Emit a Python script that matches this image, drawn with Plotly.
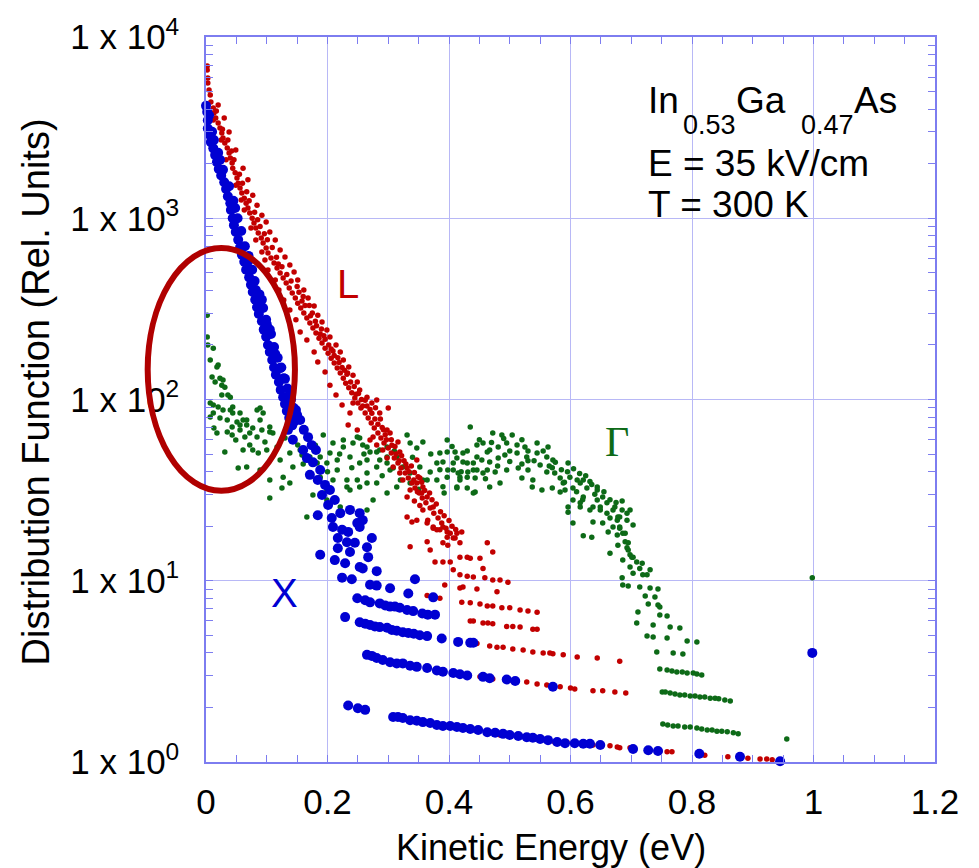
import plotly.graph_objects as go

# ---------------- data (energy in eV, distribution function in rel. units) ----------------
# X valley (blue)
x_valley = [
    (0.000, 4170), (0.002, 3860), (0.003, 3470), (0.003, 3130), (0.007, 2860), (0.008, 2630),
    (0.012, 2430), (0.015, 2230), (0.018, 2040), (0.021, 1870), (0.025, 1720), (0.030, 1580),
    (0.033, 1450), (0.036, 1320), (0.040, 1210), (0.041, 1110), (0.044, 1000), (0.046, 916),
    (0.049, 840), (0.053, 760), (0.056, 690), (0.059, 630), (0.063, 575), (0.066, 520),
    (0.071, 472), (0.074, 430), (0.077, 392), (0.081, 355), (0.084, 323), (0.087, 296),
    (0.092, 270), (0.095, 243), (0.099, 222), (0.102, 200), (0.105, 183), (0.109, 165),
    (0.112, 150), (0.115, 137), (0.120, 125), (0.123, 113), (0.127, 103), (0.130, 94.5),
    (0.133, 86.5), (0.137, 79), (0.142, 72),
    (0.013, 2700), (0.023, 2100), (0.048, 1140), (0.069, 575), (0.082, 402), (0.092, 355),
    (0.099, 275), (0.105, 243), (0.114, 178), (0.122, 149), (0.128, 131), (0.138, 106),
    (0.148, 87.5), (0.135, 68), (0.143, 60),
    (0.005, 3700), (0.010, 3000), (0.020, 2300), (0.028, 1850), (0.038, 1500), (0.045, 1250),
    (0.052, 1000), (0.058, 850), (0.064, 700), (0.070, 620), (0.076, 520), (0.080, 450),
    (0.088, 380), (0.094, 320), (0.100, 260), (0.107, 230), (0.112, 195), (0.118, 170),
    (0.124, 150), (0.130, 130), (0.134, 115), (0.140, 100), (0.144, 90), (0.150, 82),
    (0.146, 76),
    (0.155, 77), (0.161, 68), (0.168, 62), (0.174, 56), (0.160, 52.6), (0.181, 52.6),
    (0.166, 47.5), (0.176, 45), (0.188, 40.8), (0.171, 38.4), (0.184, 36), (0.196, 33.8),
    (0.204, 31.7), (0.191, 29.7), (0.212, 27.9), (0.201, 26.2), (0.184, 23),
    (0.221, 23.6), (0.237, 24.6), (0.253, 23.6), (0.258, 21.6), (0.249, 20.8), (0.207, 22.2),
    (0.209, 19.8), (0.224, 19.1), (0.234, 18.6), (0.253, 19.8), (0.217, 17.2), (0.232, 16.3),
    (0.245, 16.2), (0.273, 17.2), (0.265, 15.3), (0.217, 15.1), (0.237, 14.4), (0.267, 13.5),
    (0.188, 13.9), (0.212, 13.0), (0.229, 12.5), (0.253, 11.9), (0.258, 11.7), (0.281, 11.3),
    (0.224, 10.4), (0.240, 10.2),
    (0.270, 9.5), (0.281, 9.4), (0.303, 9.1), (0.344, 10.2), (0.333, 8.5), (0.374, 8.1),
    (0.249, 8.0), (0.262, 7.8), (0.270, 7.6), (0.286, 7.5), (0.295, 7.3), (0.303, 7.2),
    (0.311, 7.2), (0.319, 7.1), (0.331, 6.9), (0.341, 6.8), (0.356, 6.6), (0.365, 6.5),
    (0.377, 6.5),
    (0.229, 6.3), (0.253, 5.9), (0.262, 5.8), (0.270, 5.7), (0.278, 5.6), (0.286, 5.55),
    (0.298, 5.5), (0.306, 5.35), (0.314, 5.3), (0.324, 5.2), (0.333, 5.15), (0.342, 5.1),
    (0.352, 5.0), (0.364, 4.95), (0.388, 4.8), (0.415, 4.6), (0.435, 4.55), (0.440, 4.55),
    (0.265, 3.9), (0.273, 3.85), (0.281, 3.75), (0.291, 3.65), (0.303, 3.55), (0.314, 3.5),
    (0.324, 3.5), (0.336, 3.4), (0.347, 3.35), (0.364, 3.3), (0.380, 3.2), (0.390, 3.15),
    (0.407, 3.1), (0.418, 3.05), (0.430, 3.0), (0.456, 2.95), (0.467, 2.9), (0.495, 2.85),
    (0.509, 2.8), (0.571, 2.6),
    (0.234, 2.05), (0.250, 1.98), (0.262, 1.94), (0.308, 1.77), (0.316, 1.77), (0.324, 1.75),
    (0.336, 1.7), (0.347, 1.69), (0.357, 1.66), (0.369, 1.64), (0.380, 1.6), (0.390, 1.58),
    (0.402, 1.58), (0.413, 1.56), (0.423, 1.54), (0.435, 1.52), (0.448, 1.5), (0.463, 1.46),
    (0.476, 1.45), (0.489, 1.43), (0.500, 1.41), (0.514, 1.39), (0.528, 1.37), (0.538, 1.36),
    (0.550, 1.34), (0.563, 1.32), (0.578, 1.29), (0.591, 1.27), (0.607, 1.27), (0.621, 1.26),
    (0.632, 1.26), (0.649, 1.24), (0.703, 1.18), (0.728, 1.16), (0.744, 1.15), (0.812, 1.11),
    (0.879, 1.07), (0.945, 1.01),
    (0.998, 4.0),
]

# L valley (red)
l_valley = [
    (0.002, 6920), (0.002, 6580), (0.003, 5940), (0.003, 5570), (0.005, 5100), (0.007, 4790),
    (0.008, 4380), (0.012, 4060), (0.013, 3810), (0.016, 3570), (0.020, 3350), (0.023, 3150),
    (0.026, 2950), (0.028, 2770), (0.031, 2600), (0.035, 2440), (0.038, 2290), (0.040, 2150),
    (0.043, 2020), (0.044, 1890), (0.048, 1780), (0.051, 1670), (0.053, 1560), (0.056, 1470),
    (0.059, 1380), (0.063, 1290), (0.066, 1210), (0.069, 1140), (0.072, 1070), (0.076, 1000),
    (0.079, 942), (0.082, 883), (0.086, 829), (0.091, 778), (0.094, 730), (0.099, 685),
    (0.102, 643), (0.107, 603), (0.112, 566), (0.117, 531), (0.122, 499), (0.127, 468),
    (0.132, 439), (0.137, 412), (0.142, 387), (0.147, 363), (0.151, 340), (0.156, 320),
    (0.161, 300), (0.166, 282), (0.171, 264), (0.176, 248), (0.181, 233), (0.186, 218),
    (0.191, 205), (0.196, 192), (0.201, 180), (0.206, 169), (0.211, 159), (0.216, 149),
    (0.221, 140), (0.226, 131), (0.230, 123), (0.235, 116), (0.240, 109), (0.245, 102),
    (0.250, 95.7), (0.255, 89.8), (0.262, 84.2), (0.267, 79), (0.272, 74.2), (0.277, 69.6),
    (0.283, 65.3), (0.288, 61.3), (0.293, 57.5), (0.300, 54), (0.305, 50.7), (0.310, 47.5),
    (0.316, 44.6), (0.321, 41.9), (0.328, 39.3), (0.333, 36.9), (0.339, 34.6), (0.344, 32.5),
    (0.351, 30.5), (0.356, 28.6), (0.362, 26.9), (0.369, 25.2), (0.375, 23.6), (0.382, 22.2),
    (0.388, 20.8), (0.395, 19.5), (0.402, 18.3), (0.410, 17.2), (0.418, 16.2),
    (0.012, 3480), (0.025, 2700), (0.033, 2100), (0.049, 1520), (0.058, 1260), (0.063, 1110),
    (0.074, 883), (0.082, 759), (0.092, 651), (0.097, 589), (0.102, 518), (0.114, 456),
    (0.120, 402), (0.128, 354), (0.138, 312), (0.148, 275), (0.155, 236), (0.166, 213),
    (0.178, 183), (0.184, 161), (0.196, 142), (0.204, 120), (0.214, 106), (0.224, 93.3),
    (0.237, 84.2), (0.242, 95.7), (0.234, 72.3), (0.249, 67.9), (0.270, 59.7), (0.275, 62.1),
    (0.281, 56.1), (0.291, 52.6), (0.298, 47.5), (0.308, 42.4), (0.319, 39.3), (0.324, 36),
    (0.336, 31.7), (0.331, 29), (0.331, 22.5), (0.339, 21.1), (0.336, 15.4),
    (0.020, 4220), (0.030, 3570), (0.038, 2990), (0.049, 2380), (0.061, 1890), (0.069, 1630),
    (0.077, 1340), (0.084, 1180), (0.092, 1040), (0.099, 953), (0.105, 840), (0.114, 759),
    (0.122, 668), (0.130, 611), (0.138, 552), (0.145, 505), (0.151, 456), (0.161, 402),
    (0.168, 363), (0.178, 328), (0.184, 292), (0.191, 268), (0.199, 242), (0.204, 221),
    (0.214, 200), (0.221, 183), (0.226, 165), (0.235, 151), (0.242, 136), (0.249, 125),
    (0.253, 113), (0.265, 103), (0.273, 95.7), (0.281, 99.4), (0.300, 89.8), (0.286, 84.2),
    (0.298, 67.9), (0.303, 65.3), (0.316, 58.2), (0.319, 51.3), (0.347, 46.4), (0.331, 41.9),
    (0.352, 36.9), (0.347, 34.6), (0.357, 32.9), (0.364, 29), (0.374, 25.5), (0.357, 24.6),
    (0.347, 21.6), (0.365, 21.6), (0.374, 19.8), (0.380, 19.1), (0.390, 19.8), (0.397, 18.6),
    (0.413, 18.3), (0.421, 18.6), (0.364, 20.8), (0.374, 19.5), (0.385, 19.1), (0.397, 17.4),
    (0.364, 16.4), (0.369, 14.8), (0.390, 16.2), (0.398, 15.7), (0.407, 17.2), (0.418, 13.5),
    (0.430, 13.5), (0.435, 13.3), (0.451, 13.3), (0.463, 16.2), (0.472, 14.4), (0.377, 12.7),
    (0.390, 12.7), (0.402, 12.7), (0.407, 11.5), (0.418, 10.8), (0.430, 10.6), (0.440, 10.5),
    (0.456, 11.7), (0.459, 10.4), (0.472, 10.1), (0.484, 10.1), (0.497, 9.8), (0.479, 8.7),
    (0.418, 9.12), (0.423, 9.23), (0.446, 9.0), (0.364, 8.3), (0.385, 8.0), (0.393, 9.48),
    (0.150, 420), (0.160, 370), (0.170, 330), (0.175, 300), (0.180, 270), (0.190, 245),
    (0.196, 215), (0.206, 190), (0.211, 175), (0.219, 160), (0.228, 145), (0.232, 138),
    (0.244, 118), (0.247, 107), (0.258, 92), (0.262, 99), (0.270, 88), (0.278, 78),
    (0.283, 73), (0.290, 70), (0.295, 64), (0.305, 60), (0.311, 55), (0.322, 49),
    (0.326, 46), (0.338, 43), (0.343, 39.5), (0.349, 37.5), (0.355, 35), (0.360, 31.5),
    (0.368, 30.5), (0.372, 28), (0.379, 26.5), (0.386, 24), (0.392, 22.8), (0.400, 21.5),
    (0.405, 20), (0.411, 19.2), (0.352, 26), (0.343, 27.5),
    (0.017, 3900), (0.027, 3100), (0.036, 2700), (0.042, 2350), (0.046, 2100), (0.055, 1750),
    (0.060, 1560), (0.067, 1400), (0.071, 1250), (0.080, 1080), (0.085, 980), (0.089, 900),
    (0.096, 820), (0.101, 760), (0.109, 690), (0.116, 610), (0.119, 560), (0.125, 540),
    (0.133, 490), (0.140, 450), (0.153, 390), (0.158, 350), (0.163, 330), (0.172, 290),
    (0.182, 255), (0.188, 230), (0.194, 225), (0.202, 200), (0.209, 185), (0.217, 170),
    (0.224, 150), (0.233, 140), (0.238, 125), (0.251, 108), (0.256, 100), (0.265, 92),
    (0.273, 84), (0.279, 90), (0.287, 78), (0.292, 68), (0.297, 60), (0.306, 56),
    (0.313, 50), (0.318, 46), (0.329, 44), (0.334, 40), (0.342, 36), (0.348, 31),
    (0.355, 30.5),
    (0.421, 7.6), (0.435, 7.55), (0.451, 7.45), (0.463, 7.25), (0.472, 7.25), (0.487, 7.1),
    (0.500, 7.1), (0.517, 6.9), (0.530, 6.8), (0.545, 6.7),
    (0.435, 6.0), (0.440, 6.0), (0.456, 5.85), (0.464, 5.85), (0.472, 5.8), (0.495, 5.6),
    (0.505, 5.6), (0.517, 5.55), (0.538, 5.4), (0.545, 5.4),
    (0.446, 4.5), (0.467, 4.36), (0.479, 4.3), (0.489, 4.3), (0.505, 4.2), (0.522, 4.15),
    (0.538, 4.05), (0.555, 4.0), (0.566, 4.0), (0.571, 3.95), (0.588, 3.9), (0.611, 3.8),
    (0.644, 3.75), (0.681, 3.6),
    (0.451, 2.95), (0.472, 2.87), (0.505, 2.8), (0.528, 2.76), (0.545, 2.69), (0.561, 2.66),
    (0.583, 2.6), (0.600, 2.56), (0.607, 2.53), (0.637, 2.47), (0.653, 2.47), (0.673, 2.43),
    (0.691, 2.4),
    (0.484, 1.41), (0.574, 1.29), (0.594, 1.29), (0.624, 1.26), (0.637, 1.24), (0.665, 1.23),
    (0.677, 1.21), (0.681, 1.2), (0.698, 1.2), (0.747, 1.15), (0.759, 1.14), (0.767, 1.14),
    (0.821, 1.09), (0.859, 1.07), (0.892, 1.05), (0.912, 1.04), (0.923, 1.04), (0.932, 1.03),
]

# Gamma valley (green)
gamma_valley = [
    (0.002, 292), (0.002, 221), (0.003, 200), (0.012, 192), (0.007, 165), (0.020, 155),
    (0.018, 151), (0.010, 133), (0.023, 131), (0.028, 128), (0.015, 125), (0.026, 120),
    (0.031, 117), (0.026, 106), (0.036, 106), (0.040, 103), (0.007, 95.7), (0.012, 93.3),
    (0.020, 90.9), (0.044, 90.9), (0.028, 87.5), (0.040, 87.5), (0.084, 87.5), (0.089, 89.8),
    (0.012, 84.2), (0.044, 84.2), (0.056, 84.2), (0.094, 84.2), (0.007, 80), (0.023, 79),
    (0.035, 77.1), (0.061, 77.1), (0.089, 77.1), (0.067, 77.1), (0.051, 75.1), (0.056, 72.3),
    (0.067, 72.3), (0.043, 70.5), (0.105, 70.5), (0.077, 69.6), (0.092, 67.9), (0.056, 67.9),
    (0.035, 66.2), (0.105, 66.2), (0.018, 65.3), (0.072, 65.3), (0.110, 65.3), (0.043, 63.7),
    (0.064, 62.1), (0.084, 62.1), (0.117, 54.7), (0.061, 52.6), (0.077, 52.6), (0.100, 52.6),
    (0.031, 51.3), (0.086, 50.7), (0.138, 50.7), (0.122, 46.4), (0.067, 42.4), (0.053, 41.9),
    (0.143, 42.4), (0.089, 40.8), (0.127, 37.3), (0.105, 36), (0.138, 34.6), (0.125, 32.5),
    (0.105, 28.6), (0.013, 69.6), (0.049, 59.7), (0.072, 56.1), (0.097, 58.2), (0.130, 61.3),
    (0.151, 56.1), (0.158, 49.4),
    (0.155, 52.6), (0.171, 48.2), (0.183, 44.6), (0.188, 37.3), (0.193, 63.7), (0.204, 50.7),
    (0.209, 57.5), (0.226, 59.7), (0.226, 54.7), (0.237, 48.2), (0.242, 57.5), (0.249, 62.1),
    (0.253, 61.3), (0.258, 56.1), (0.253, 44.6), (0.265, 54.7), (0.270, 51.3), (0.281, 51.3),
    (0.286, 52.6), (0.298, 54.7), (0.298, 48.2), (0.281, 42.4), (0.303, 40.8), (0.265, 34.6),
    (0.237, 31.7), (0.232, 36), (0.216, 40.8), (0.188, 48.2), (0.199, 44.6), (0.216, 46.4),
    (0.265, 46.4), (0.286, 46.4), (0.308, 41.9), (0.324, 42.4), (0.331, 63.7), (0.336, 57.5),
    (0.347, 54), (0.357, 58.2), (0.314, 48.2), (0.298, 44.6), (0.265, 39.3), (0.249, 36),
    (0.209, 36), (0.336, 39.3), (0.352, 42.4), (0.369, 39.8), (0.380, 44.6), (0.397, 51.3),
    (0.413, 47.5), (0.430, 44.6), (0.446, 48.2), (0.463, 51.3), (0.472, 65.3), (0.435, 70.5),
    (0.397, 59.7), (0.407, 40.8), (0.418, 36), (0.430, 37.3), (0.440, 40.8), (0.456, 39.3),
    (0.467, 32.9), (0.443, 30.9), (0.413, 32.9), (0.397, 37.3), (0.364, 36), (0.336, 34.6),
    (0.314, 32.9), (0.298, 30.5), (0.281, 34.6), (0.253, 32.9), (0.232, 32.9), (0.199, 31.7),
    (0.176, 29.7), (0.199, 27.9), (0.221, 25.5), (0.275, 27.9), (0.265, 24.6), (0.166, 22.5),
    (0.357, 36), (0.380, 36),
    (0.160, 44), (0.180, 56), (0.200, 40), (0.220, 50), (0.240, 42), (0.260, 50),
    (0.290, 38), (0.310, 52), (0.320, 36), (0.340, 48), (0.350, 32), (0.370, 50),
    (0.385, 41), (0.390, 33), (0.405, 55), (0.420, 40), (0.430, 52),
    (0.487, 63.7), (0.504, 63.7), (0.385, 50.7), (0.410, 51.3), (0.423, 50.7), (0.446, 56.1),
    (0.456, 57.5), (0.467, 52.6), (0.481, 54.7), (0.495, 57.5), (0.512, 56.1), (0.525, 54.7),
    (0.545, 57.5), (0.563, 54.7), (0.390, 45.2), (0.407, 44.6), (0.423, 45.2), (0.440, 44.6),
    (0.454, 46.4), (0.467, 45.2), (0.481, 47.5), (0.492, 49.4), (0.512, 50.7), (0.528, 48.2),
    (0.545, 50.7), (0.561, 48.2), (0.571, 46.4), (0.596, 44.6), (0.398, 40.8), (0.415, 39.3),
    (0.431, 39.8), (0.446, 40.8), (0.463, 40.8), (0.476, 39.8), (0.495, 40.8), (0.514, 41.9),
    (0.530, 40.8), (0.550, 43.5), (0.561, 39.8), (0.574, 39.3), (0.583, 36.9), (0.599, 37.3),
    (0.611, 36), (0.621, 36), (0.632, 35.3), (0.644, 32.9), (0.653, 29), (0.418, 37.3),
    (0.443, 36.9), (0.484, 34.6), (0.520, 36.9), (0.537, 32.9), (0.538, 36), (0.553, 31.7),
    (0.570, 32.5), (0.583, 30.9), (0.591, 31.7), (0.596, 25.5), (0.604, 27.9), (0.616, 25.5),
    (0.621, 29), (0.632, 24.6), (0.644, 27.9), (0.649, 25.5), (0.660, 23.6), (0.670, 24.6),
    (0.677, 21.6), (0.681, 22.5), (0.693, 23.6), (0.703, 20.3), (0.670, 19.8), (0.662, 18.6),
    (0.681, 19.8), (0.686, 18.3), (0.621, 17.7), (0.635, 17.4), (0.604, 20.8), (0.665, 14.2),
    (0.678, 15.7), (0.690, 16.4), (0.693, 15.2), (0.698, 13.9), (0.703, 13.5), (0.413, 32.5),
    (0.430, 32.5), (0.440, 30.5), (0.392, 30.5), (0.588, 34.6), (0.604, 32.5), (0.616, 34.6),
    (0.627, 32.5), (0.644, 31.7), (0.660, 26.9), (0.649, 24.6), (0.637, 25.5), (0.616, 26.9),
    (0.596, 23.9), (0.637, 21.1), (0.653, 20.8), (0.665, 22.2), (0.673, 25.5), (0.685, 24.6),
    (0.678, 22.5), (0.693, 21.6), (0.698, 24.6), (0.681, 19.5), (0.690, 18.3), (0.677, 17.9),
    (0.450, 60), (0.470, 58), (0.490, 61), (0.500, 52), (0.520, 60), (0.530, 52),
    (0.540, 46), (0.555, 52), (0.565, 43), (0.575, 45), (0.585, 41), (0.595, 40),
    (0.605, 41.5), (0.615, 39), (0.625, 38), (0.635, 34), (0.640, 30), (0.655, 31),
    (0.665, 28), (0.675, 27), (0.685, 27.5), (0.460, 36.5), (0.480, 43), (0.500, 45.5),
    (0.520, 44), (0.530, 46), (0.570, 42), (0.590, 35), (0.610, 31), (0.620, 28),
    (0.695, 16.2), (0.695, 14.8), (0.686, 13.0), (0.701, 13.5), (0.709, 12.7), (0.718, 12.5),
    (0.698, 11.9), (0.714, 11.7), (0.731, 11.5), (0.703, 11.0), (0.719, 10.8), (0.726, 10.8),
    (0.685, 10.4), (0.686, 9.48), (0.695, 9.35), (0.714, 9.23), (0.731, 9.12), (0.744, 9.0),
    (0.723, 8.24), (0.739, 8.13), (0.728, 7.44), (0.744, 7.35), (0.747, 7.17), (0.711, 6.73),
    (0.747, 6.47), (0.759, 6.39), (0.709, 5.85), (0.736, 5.70), (0.764, 5.56), (0.780, 5.49),
    (0.726, 4.96), (0.736, 4.90), (0.759, 4.83), (0.792, 4.65), (0.808, 4.59), (0.742, 4.05),
    (0.769, 3.99), (0.785, 3.94),
    (0.747, 3.26), (0.759, 3.22), (0.767, 3.18), (0.775, 3.14), (0.784, 3.14), (0.792, 3.10),
    (0.802, 3.10), (0.808, 3.06), (0.816, 3.02),
    (0.751, 2.43), (0.756, 2.43), (0.764, 2.40), (0.772, 2.37), (0.780, 2.34), (0.788, 2.34),
    (0.797, 2.31), (0.805, 2.31), (0.813, 2.28), (0.821, 2.28), (0.830, 2.25), (0.838, 2.25),
    (0.844, 2.23), (0.854, 2.20), (0.863, 2.17),
    (0.752, 1.62), (0.760, 1.60), (0.769, 1.58), (0.777, 1.58), (0.788, 1.56), (0.797, 1.56),
    (0.808, 1.54), (0.816, 1.52), (0.825, 1.50), (0.833, 1.50), (0.841, 1.48), (0.849, 1.48),
    (0.858, 1.47), (0.868, 1.45), (0.876, 1.43),
    (0.956, 1.34), (0.998, 10.4),
]

x_tickvals = [0, 0.2, 0.4, 0.6, 0.8, 1.0, 1.2]
x_ticktext = ["0", "0.2", "0.4", "0.6", "0.8", "1", "1.2"]
y_tickvals = [1, 10, 100, 1000, 10000]
y_ticktext = ["1 x 10<sup>0</sup>", "1 x 10<sup>1</sup>", "1 x 10<sup>2</sup>",
              "1 x 10<sup>3</sup>", "1 x 10<sup>4</sup>"]

BLUE = "#0000d2"
RED = "#c20000"
GREEN = "#0d6a17"
AXIS = "#7d7df0"
GRID = "#b8b8f6"
FONT = "Liberation Sans, Arial, Helvetica, sans-serif"


def split(pts):
    return [p[0] for p in pts], [p[1] for p in pts]


fig = go.Figure()
for pts, col, size in [(gamma_valley, GREEN, 5.5), (l_valley, RED, 5.5), (x_valley, BLUE, 10)]:
    xs, ys = split(pts)
    fig.add_trace(go.Scatter(x=xs, y=ys, mode="markers", cliponaxis=False,
                             marker=dict(color=col, size=size, line=dict(width=0)),
                             showlegend=False))

fig.update_layout(
    width=979, height=868,
    margin=dict(l=206, r=44, t=37, b=106),
    paper_bgcolor="white", plot_bgcolor="white",
    font=dict(family=FONT, color="black", size=35),
)
fig.update_xaxes(
    range=[0, 1.2], tickvals=x_tickvals, ticktext=x_ticktext,
    showline=True, linecolor=AXIS, linewidth=1.5, mirror="allticks",
    ticks="inside", ticklen=7, tickcolor=AXIS, tickwidth=1,
    showgrid=True, gridcolor=GRID, gridwidth=1, zeroline=False,
    tickfont=dict(size=35), ticklabelstandoff=8,
    minor=dict(dtick=0.05, ticks="inside", ticklen=7, tickcolor=AXIS, showgrid=False),
)
fig.update_yaxes(
    type="log", range=[0, 4], tickvals=y_tickvals, ticktext=y_ticktext,
    showline=True, linecolor=AXIS, linewidth=1.5, mirror="allticks",
    ticks="inside", ticklen=7, tickcolor=AXIS, tickwidth=1,
    showgrid=True, gridcolor=GRID, gridwidth=1, zeroline=False,
    tickfont=dict(size=35), ticklabelstandoff=18,
    minor=dict(dtick="D1", ticks="inside", ticklen=7, tickcolor=AXIS, showgrid=False),
)

annotations = [
    dict(text="Kinetic Energy (eV)", xref="paper", yref="paper", x=0.473, y=-0.118,
         xanchor="center", yanchor="middle", showarrow=False, font=dict(size=36)),
    dict(text="Distribution Function (Rel. Units)", xref="paper", yref="paper", x=-0.233, y=0.51,
         xanchor="center", yanchor="middle", textangle=-90, showarrow=False, font=dict(size=38)),
    dict(text="In", xref="paper", yref="paper", x=0.604, y=0.913,
         xanchor="left", yanchor="middle", showarrow=False, font=dict(size=37)),
    dict(text="0.53", xref="paper", yref="paper", x=0.651, y=0.879,
         xanchor="left", yanchor="middle", showarrow=False, font=dict(size=27)),
    dict(text="Ga", xref="paper", yref="paper", x=0.724, y=0.913,
         xanchor="left", yanchor="middle", showarrow=False, font=dict(size=37)),
    dict(text="0.47", xref="paper", yref="paper", x=0.813, y=0.879,
         xanchor="left", yanchor="middle", showarrow=False, font=dict(size=27)),
    dict(text="As", xref="paper", yref="paper", x=0.886, y=0.913,
         xanchor="left", yanchor="middle", showarrow=False, font=dict(size=37)),
    dict(text="E = 35 kV/cm", xref="paper", yref="paper", x=0.604, y=0.826,
         xanchor="left", yanchor="middle", showarrow=False, font=dict(size=37)),
    dict(text="T = 300 K", xref="paper", yref="paper", x=0.604, y=0.769,
         xanchor="left", yanchor="middle", showarrow=False, font=dict(size=37)),
    dict(text="L", xref="paper", yref="paper", x=0.195, y=0.66,
         xanchor="center", yanchor="middle", showarrow=False, font=dict(size=40, color=RED)),
    dict(text="Γ", xref="paper", yref="paper", x=0.564, y=0.441,
         xanchor="center", yanchor="middle", showarrow=False,
         font=dict(size=42, color=GREEN, family="Liberation Serif, Times New Roman, serif")),
    dict(text="X", xref="paper", yref="paper", x=0.108, y=0.233,
         xanchor="center", yanchor="middle", showarrow=False, font=dict(size=40, color=BLUE)),
]
fig.update_layout(annotations=annotations)

fig.add_shape(type="circle", xref="paper", yref="paper",
              x0=-0.080, x1=0.122, y0=0.374, y1=0.709,
              line=dict(color="#b00000", width=6), fillcolor="rgba(0,0,0,0)")

fig.write_html("out.html")
